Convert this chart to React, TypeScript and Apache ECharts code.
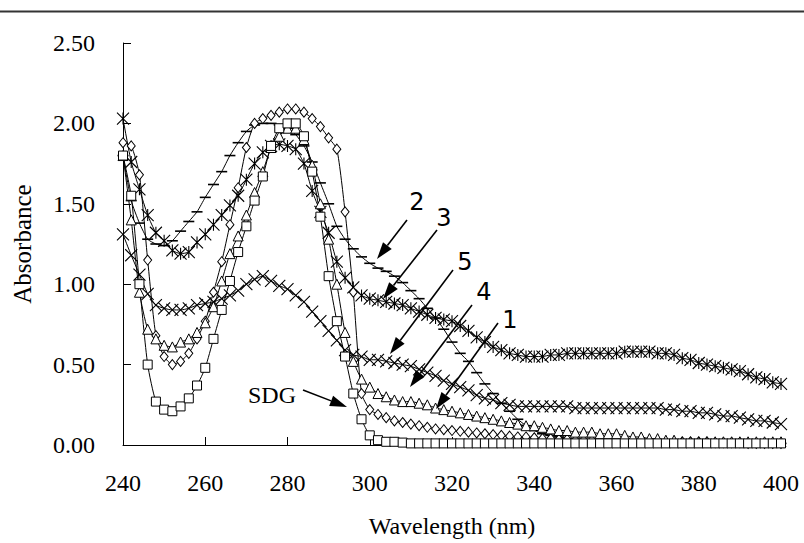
import React, { useEffect, useRef } from "react";
import * as echarts from "echarts";

// wavelength grid (nm), sampled every 2 nm
const wavelengths: number[] = Array.from({ length: 81 }, (_, i) => 240 + 2 * i);

const xTicks = [240, 260, 280, 300, 320, 340, 360, 380, 400];
const yTicks = [0, 0.5, 1, 1.5, 2, 2.5];

// SDG (squares)
const sdg = [
  1.80, 1.55, 1.00, 0.50, 0.27, 0.22, 0.21, 0.24, 0.29, 0.37,
  0.48, 0.66, 0.84, 1.02, 1.20, 1.36, 1.52, 1.67, 1.86, 1.97,
  2.00, 2.00, 1.92, 1.70, 1.42, 1.05, 0.77, 0.55, 0.32, 0.16,
  0.06, 0.03, 0.02, 0.02, 0.015, 0.01, 0.01, 0.01, 0.01, 0.01,
  0.01, 0.01, 0.01, 0.01, 0.01, 0.01, 0.01, 0.01, 0.01, 0.01,
  0.01, 0.01, 0.01, 0.01, 0.01, 0.01, 0.01, 0.01, 0.01, 0.01,
  0.01, 0.01, 0.01, 0.01, 0.01, 0.01, 0.01, 0.01, 0.01, 0.01,
  0.01, 0.01, 0.01, 0.01, 0.01, 0.01, 0.01, 0.01, 0.01, 0.01,
  0.01,
];

// Sample 1 (diamonds)
const s1 = [
  1.88, 1.86, 1.68, 1.15, 0.68, 0.55, 0.50, 0.52, 0.57, 0.66,
  0.77, 0.95, 1.14, 1.37, 1.60, 1.85, 2.00, 2.03, 2.05, 2.07,
  2.09, 2.09, 2.07, 2.03, 1.98, 1.91, 1.84, 1.45, 0.95, 0.32,
  0.22, 0.19, 0.17, 0.15, 0.14, 0.13, 0.12, 0.11, 0.10, 0.095,
  0.09, 0.085, 0.08, 0.075, 0.07, 0.065, 0.06, 0.055, 0.05, 0.05,
  0.045, 0.04, 0.04, 0.035, 0.035, 0.03, 0.03, 0.03, 0.025, 0.025,
  0.025, 0.02, 0.02, 0.02, 0.02, 0.02, 0.02, 0.02, 0.02, 0.02,
  0.02, 0.02, 0.015, 0.015, 0.015, 0.015, 0.01, 0.01, 0.01, 0.01,
  0.01,
];

// Sample 2 (dashes)
const s2 = [
  1.80, 1.52, 1.38, 1.28, 1.25, 1.24, 1.27, 1.33, 1.39, 1.45,
  1.54, 1.62, 1.70, 1.80, 1.88, 1.95, 1.99, 2.00, 2.00, 1.99,
  1.97, 1.93, 1.86, 1.76, 1.63, 1.50, 1.36, 1.28, 1.22, 1.17,
  1.13, 1.10, 1.08, 1.05, 1.01, 0.96, 0.91, 0.85, 0.79, 0.72,
  0.64, 0.57, 0.52, 0.45, 0.38, 0.32, 0.26, 0.21, 0.16, 0.12,
  0.09, 0.07, 0.06, 0.05, 0.04, 0.035, 0.03, 0.03, 0.025, 0.025,
  0.02, 0.02, 0.02, 0.02, 0.02, 0.02, 0.015, 0.015, 0.015, 0.015,
  0.015, 0.015, 0.01, 0.01, 0.01, 0.01, 0.01, 0.01, 0.01, 0.01,
  0.01,
];

// Sample 3 (asterisks)
const s3 = [
  2.03, 1.76, 1.59, 1.43, 1.32, 1.27, 1.21, 1.19, 1.20, 1.26,
  1.31, 1.37, 1.43, 1.49, 1.55, 1.65, 1.75, 1.82, 1.86, 1.87,
  1.86, 1.84, 1.75, 1.58, 1.45, 1.32, 1.14, 1.04, 0.98, 0.93,
  0.91, 0.90, 0.89, 0.88, 0.87, 0.85, 0.83, 0.81, 0.79, 0.78,
  0.77, 0.74, 0.71, 0.67, 0.64, 0.61, 0.59, 0.57, 0.56, 0.55,
  0.55, 0.55, 0.56, 0.56, 0.57, 0.57, 0.57, 0.57, 0.57, 0.57,
  0.57, 0.58, 0.58, 0.58, 0.58, 0.57, 0.57, 0.56, 0.54, 0.53,
  0.51, 0.50, 0.49, 0.48, 0.47, 0.46, 0.44, 0.42, 0.41, 0.39,
  0.38,
];

// Sample 4 (triangles)
const s4 = [
  1.80, 1.40, 0.95, 0.72, 0.66, 0.62, 0.61, 0.64, 0.66, 0.70,
  0.76, 0.86, 1.02, 1.19, 1.30, 1.43, 1.57, 1.70, 1.85, 1.92,
  1.97, 1.97, 1.90, 1.74, 1.50, 1.28, 1.00, 0.70, 0.52, 0.41,
  0.36, 0.32, 0.30, 0.28, 0.27, 0.27, 0.26, 0.25, 0.23, 0.22,
  0.21, 0.20, 0.19, 0.18, 0.17, 0.16, 0.15, 0.14, 0.13, 0.12,
  0.12, 0.11, 0.10, 0.09, 0.09, 0.08, 0.08, 0.08, 0.07, 0.07,
  0.07, 0.06, 0.05, 0.05, 0.04, 0.04, 0.03, 0.03, 0.02, 0.02,
  0.02, 0.02, 0.02, 0.02, 0.02, 0.02, 0.02, 0.02, 0.02, 0.02,
  0.02,
];

// Sample 5 (crosses)
const s5 = [
  1.31, 1.18, 1.06, 0.94, 0.87, 0.85, 0.84, 0.84, 0.85, 0.87,
  0.88, 0.89, 0.91, 0.93, 0.96, 1.00, 1.03, 1.05, 1.02, 0.99,
  0.97, 0.93, 0.89, 0.83, 0.77, 0.71, 0.65, 0.59, 0.56, 0.55,
  0.53, 0.53, 0.52, 0.51, 0.50, 0.49, 0.47, 0.45, 0.43, 0.40,
  0.38, 0.36, 0.34, 0.31, 0.29, 0.28, 0.26, 0.25, 0.24, 0.24,
  0.24, 0.24, 0.24, 0.24, 0.24, 0.23, 0.23, 0.23, 0.23, 0.23,
  0.23, 0.23, 0.23, 0.23, 0.23, 0.23, 0.22, 0.22, 0.21, 0.21,
  0.20, 0.20, 0.19, 0.18, 0.18, 0.17, 0.16, 0.15, 0.15, 0.14,
  0.13,
];

const serif = "'Liberation Serif', 'Times New Roman', serif";
const sans = "'DejaVu Sans', sans-serif";

const CROSS = "path://M0,0L10,10M10,0L0,10";
const STAR = "path://M0,0L10,10M10,0L0,10M5,0L5,10";

function pairs(ys: number[]) {
  return wavelengths.map((x, i) => [x, ys[i]]);
}

function arrow(x1: number, y1: number, x2: number, y2: number) {
  const dx = x2 - x1;
  const dy = y2 - y1;
  const len = Math.sqrt(dx * dx + dy * dy);
  const ux = dx / len;
  const uy = dy / len;
  const hl = 17;
  const hw = 5.5;
  const bx = x2 - ux * hl;
  const by = y2 - uy * hl;
  return [
    {
      type: "line",
      shape: { x1, y1, x2: bx, y2: by },
      style: { stroke: "#000", lineWidth: 1.6 },
      z: 100,
    },
    {
      type: "polygon",
      shape: {
        points: [
          [x2, y2],
          [bx - uy * hw, by + ux * hw],
          [bx + uy * hw, by - ux * hw],
        ],
      },
      style: { fill: "#000" },
      z: 100,
    },
  ];
}

function label(text: string, x: number, y: number, font: string, size: number) {
  return {
    type: "text",
    x,
    y,
    z: 100,
    style: {
      text,
      fill: "#000",
      fontFamily: font,
      fontSize: size,
      align: "center",
      verticalAlign: "middle",
    },
  };
}

export default function App() {
  const ref = useRef<HTMLDivElement>(null);
  useEffect(() => {
    if (!ref.current) return;
    const chart = echarts.init(ref.current, null, { renderer: "svg" });
    const lineStyle = { color: "#000", width: 1 };
    const hollow = { color: "#fff", borderColor: "#000", borderWidth: 1 };
    const stroke = { color: "#000", borderColor: "#000", borderWidth: 1.1 };
    const mk = (name: string, data: number[], symbol: string, size: any, itemStyle: any) => ({
      name,
      type: "line",
      data: pairs(data),
      symbol,
      symbolSize: size,
      showSymbol: true,
      showAllSymbol: true,
      smooth: 0.2,
      clip: false,
      lineStyle,
      itemStyle,
      emphasis: { disabled: true },
    });
    chart.setOption({
      animation: false,
      backgroundColor: "#fff",
      textStyle: { fontFamily: serif },
      grid: { left: 123, right: 23, top: 43, bottom: 94 },
      xAxis: {
        type: "value",
        min: xTicks[0],
        max: xTicks[xTicks.length - 1],
        interval: 20,
        name: "Wavelength (nm)",
        nameLocation: "middle",
        nameGap: 69,
        nameTextStyle: { fontFamily: serif, fontSize: 24, color: "#000" },
        axisLine: { lineStyle: { color: "#000", width: 1 } },
        axisTick: { inside: true, length: 8, lineStyle: { color: "#000" } },
        axisLabel: { fontFamily: serif, fontSize: 24, color: "#000", margin: 26 },
        splitLine: { show: false },
      },
      yAxis: {
        type: "value",
        min: yTicks[0],
        max: yTicks[yTicks.length - 1],
        interval: 0.5,
        name: "Absorbance",
        nameLocation: "middle",
        nameRotate: 90,
        nameGap: 88,
        nameTextStyle: { fontFamily: serif, fontSize: 25, color: "#000" },
        axisLine: { show: true, lineStyle: { color: "#000", width: 1 } },
        axisTick: { show: true, inside: true, length: 8, lineStyle: { color: "#000" } },
        axisLabel: {
          fontFamily: serif,
          fontSize: 24,
          color: "#000",
          margin: 28,
          formatter: (v: number) => v.toFixed(2),
        },
        splitLine: { show: false },
      },
      series: [
        mk("5", s5, CROSS, 12, stroke),
        mk("3", s3, STAR, 12, stroke),
        mk("2", s2, "rect", [11, 1.6], { color: "#000" }),
        mk("1", s1, "diamond", [8, 10], hollow),
        mk("4", s4, "triangle", 10, hollow),
        mk("SDG", sdg, "rect", 9, hollow),
      ],
      graphic: [
        {
          type: "line",
          shape: { x1: 0, y1: 11.5, x2: 804, y2: 11.5 },
          style: { stroke: "#333", lineWidth: 2 },
        },
        ...arrow(407, 220, 377, 259),
        ...arrow(437, 230, 383, 299),
        ...arrow(453, 270, 390, 354),
        ...arrow(472, 305, 410, 387),
        ...arrow(498, 323, 436, 409),
        ...arrow(303, 390, 347, 407),
        label("2", 417, 202, sans, 24),
        label("3", 444, 218, sans, 24),
        label("5", 465, 262, sans, 24),
        label("4", 484, 292, sans, 24),
        label("1", 510, 320, sans, 24),
        label("SDG", 272, 395, serif, 24),
      ],
    });
    return () => chart.dispose();
  }, []);
  return (
    <div
      ref={ref}
      style={{ position: "fixed", left: 0, top: 0, width: 804, height: 543, background: "#fff" }}
    />
  );
}
